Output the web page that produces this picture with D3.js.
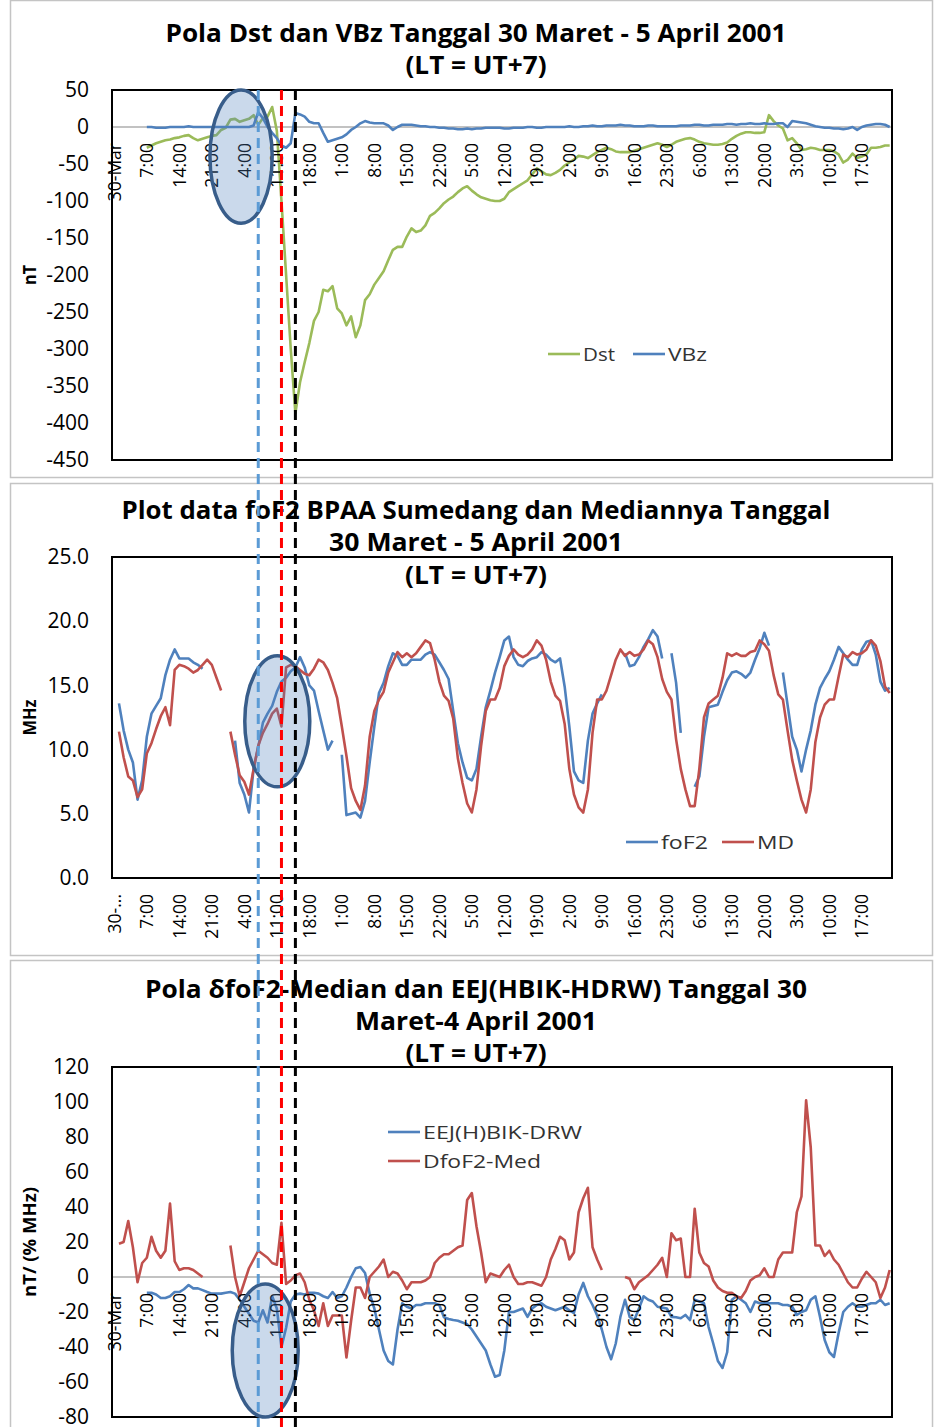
<!DOCTYPE html>
<html>
<head>
<meta charset="utf-8">
<script src="https://cdn.jsdelivr.net/npm/d3@7"></script>
<style>
body { margin: 0; background: #fff; }
text { font-family: "Open Sans", sans-serif; }
</style>
</head>
<body>
<svg id="chart" width="934" height="1427"></svg>
<script>
// hourly categories, 30 Mar 00:00 LT .. 5 Apr 23:00 LT
var N = 168;
var tickLabels = ["30-Mar", "7:00", "14:00", "21:00", "4:00", "11:00", "18:00", "1:00", "8:00", "15:00", "22:00", "5:00",
  "12:00", "19:00", "2:00", "9:00", "16:00", "23:00", "6:00", "13:00", "20:00", "3:00", "10:00", "17:00"];
var tickLabels2 = ["30-..."].concat(tickLabels.slice(1));

var dst = [
  null, null, null, null, null, null, null, -28, -25, -22, -20, -18, -17, -15, -14, -12, -11, -15, -18, -16, -14, -12, -11, -4,
  -1, 10, 11, 7, 9, 11, 16, 3, 12, 14, 27, -5, -100, -200, -300, -387, -345, -318, -292, -262, -250, -220, -222, -215,
  -245, -252, -268, -256, -284, -268, -234, -226, -213, -204, -195, -180, -166, -162, -162, -148, -137, -142, -140, -133, -120, -116, -110, -103,
  -98, -94, -88, -83, -80, -86, -91, -95, -97, -99, -100, -100, -97, -88, -84, -80, -76, -72, -64, -56, -60, -64, -65, -62,
  -58, -52, -48, -44, -39, -40, -42, -38, -34, -31, -28, -30, -33, -34, -34, -34, -32, -30, -28, -26, -24, -22, -24, -27,
  -24, -20, -18, -16, -15, -17, -20, -22, -23, -24, -24, -23, -21, -16, -12, -9, -7, -7, -8, -8, -7, 16, 8, 2,
  -2, -18, -15, -22, -31, -30, -28, -29, -31, -31, -31, -33, -37, -48, -44, -36, -42, -40, -37, -28, -28, -27, -25, -25
];
var vbz = [
  null, null, null, null, null, null, null, 0, 0, -1, -1, -1, 0, 0, 0, 0, 1, 0, 0, 0, 0, 0, 0, 0,
  0, 0, 0, 0, 0, 0, 2, 20, 12, 0, -8, -15, -25, -28, -22, 19, 17, 14, 7, 5, 5, -8, -20, -18,
  -16, -14, -10, -4, 0, 5, 8, 6, 5, 5, 5, 2, -4, 0, 3, 3, 3, 2, 1, 1, 0, 0, -1, -1,
  -2, -2, -3, -3, -2, -3, -2, -2, -1, -1, -1, -1, -2, -2, -1, -1, -1, 0, 0, -1, -1, 0, 0, 0,
  0, 0, 1, 0, 0, 1, 1, 2, 1, 1, 2, 2, 2, 3, 2, 2, 1, 1, 1, 2, 2, 1, 1, 1,
  1, 1, 2, 2, 2, 3, 3, 2, 2, 3, 3, 3, 4, 4, 3, 4, 4, 5, 4, 4, 5, 4, 4, 5,
  5, 0, 8, 7, 6, 5, 3, 1, 0, -1, -1, -2, -2, -3, -2, 0, -4, 0, 2, 3, 4, 4, 3, 0
];
var foF2 = [
  null, 13.6, 11.5, 10.0, 9.0, 6.1, 7.6, 11.0, 12.8, 13.4, 14.0, 15.8, 17.0, 17.8, 17.1, 17.1, 17.1, 16.8, 16.6, 16.3, null, null, null, null,
  null, null, 10.7, 7.4, 6.5, 5.1, 8.5, 10.2, 12.1, 12.8, 13.4, 14.5, 15.3, 15.6, 16.1, 16.4, 17.2, 16.4, 15.0, 14.6, 13.0, 11.5, 10.0, 10.7,
  null, 9.6, 4.9, 5.0, 5.1, 4.7, 6.0, 9.0, 11.8, 14.4, 15.2, 16.5, 17.5, 17.3, 16.6, 16.6, 17.0, 17.0, 17.0, 17.4, 17.6, 17.4, 16.8, 16.2,
  15.5, 13.0, 10.5, 9.0, 7.8, 7.6, 8.5, 11.0, 13.3, 14.6, 16.0, 17.2, 18.5, 18.8, 17.2, 16.6, 16.5, 16.9, 17.1, 17.2, 17.6, 17.4, 17.0, 16.8,
  17.1, 14.9, 11.8, 8.3, 7.6, 7.4, 10.7, 12.8, 13.6, 14.3, null, null, null, null, 17.5, 16.5, 16.6, 17.2, 18.0, 18.6, 19.3, 18.8, 17.1, null,
  17.5, 15.2, 11.3, null, null, 7.1, 7.9, 11.0, 13.3, 13.4, 13.5, 14.5, 15.4, 16.0, 16.1, 15.9, 15.6, 16.0, 17.0, 17.9, 19.1, 18.1, null, null,
  16.0, 13.5, 11.0, 10.0, 8.3, 10.0, 11.5, 13.5, 14.8, 15.5, 16.1, 17.0, 18.0, 17.5, 17.0, 16.6, 16.6, 17.8, 18.4, 18.5, 17.4, 15.3, 14.6, 14.8
];
var md = [
  null, 11.4, 9.4, 7.9, 7.6, 6.3, 6.9, 9.7, 10.5, 11.6, 12.6, 13.3, 11.9, 16.2, 16.6, 16.5, 16.3, 16.0, 16.2, 16.6, 17.0, 16.6, 15.6, 14.6,
  null, 11.4, 9.6, 8.0, 7.5, 6.5, 8.5, 10.3, 11.3, 12.0, 12.8, 13.2, 11.8, 16.4, 16.6, 16.5, 16.2, 15.9, 15.8, 16.3, 17.0, 16.8, 16.2, 15.2,
  14.0, 11.8, 9.5, 7.0, 6.0, 5.3, 7.2, 11.0, 13.0, 13.9, 14.5, 16.0, 16.8, 17.6, 17.2, 17.5, 17.2, 17.5, 18.0, 18.5, 18.3, 17.0, 15.3, 14.2,
  13.8, 12.4, 9.3, 7.4, 5.8, 5.1, 6.9, 10.3, 13.0, 13.9, 13.9, 14.8, 16.5, 17.3, 17.8, 17.4, 17.2, 17.4, 17.8, 18.5, 18.1, 17.0, 15.3, 14.2,
  13.8, 12.0, 8.5, 6.5, 5.5, 5.1, 6.9, 11.3, 13.9, 13.9, 14.6, 15.8, 17.0, 17.8, 17.3, 17.6, 17.3, 17.4, 17.8, 18.5, 18.2, 17.2, 15.5, 14.5,
  13.9, 10.8, 8.5, 6.9, 5.6, 5.6, 8.5, 12.5, 13.6, 13.9, 14.2, 15.6, 17.5, 17.3, 17.5, 17.3, 17.3, 17.6, 17.7, 18.5, 18.2, 17.7, 15.8, 14.3,
  13.9, 11.5, 9.2, 7.6, 6.1, 5.1, 6.9, 10.6, 12.5, 13.5, 13.9, 13.9, 15.7, 17.4, 17.2, 17.6, 17.4, 17.5, 17.8, 18.5, 18.1, 16.9, 14.9, 14.4
];
var eej = [
  null, null, null, null, null, null, null, -9, -9, -10, -12, -12, -11, -8.6, -8.6, -7, -4.6, -6.5, -6.5, -7.5, -8.6, -9.5, -9.5, -9.5,
  -9, -8.6, -9.5, -13, -17, -21, -25, -26, -19, -26, -11, -18, -40, -29, -14, -10, -9.5, -10, -9, -9, -9.5, -11, -12, -8.6,
  -12, -11, -6, 0, 5, 5.7, 2.3, -9.5, -18, -30, -42, -48, -50, -30, -15, -17, -18, -16, -16, -15, -15, -15, -16, -23,
  -24, -24.6, -25, -26, -27, -30, -34, -38, -42, -50, -57, -56, -42, -20, -20, -19, -18, -22.8, -18, -16, -15, -17, -18, -19,
  -18, -17, -19, -20.6, -10, -3.4, -11, -16, -22, -30, -40, -47, -38, -22.8, -13, -22.8, -24.6, -18, -11, -13, -14, -17, -17.5, -18,
  -22.8, -23, -23.6, -21.7, -24.6, -13, -14, -15, -28.6, -38, -48, -52, -43, -13, -11, -13, -15, -20, -14, -15, -15, -15, -15, -15,
  -16, -16, -17, -21.7, -20, -19, -13, -11, -22.8, -36, -43, -45.7, -32, -20, -17, -15, -17, -17, -16, -15, -15, -13, -16, -15
];
var dfoF2 = [
  null, 19, 20, 32, 17, -3, 8, 11, 23, 15, 11, 15, 42, 9, 4, 5, 5, 4, 2, 0, null, null, null, null,
  null, 18, 0, -11, -3, 5, 10, 15, 13, 11, 8, 7, 31, -4, -2, 1, 2, -3, -13, -19, -28, -15, -28, -22,
  -22, -22, -46, -25, -6, -6, -12, 0, 3, 6, 10, 0, 3, 2, -2, -7, -3, -3, -3, -2, 0, 8, 11, 13,
  13, 15, 17, 18, 44, 48, 29, 14, -3, 2, 1, 0, 4, 7, 0, -4, -4, -3, -3, -4, -5, 0, 10, 16,
  23, 21, 10, 14, 37, 45, 51, 17, 10, 4, null, null, null, null, 0, -1, -7, -3, -1, 1, 4, 7, 11, 0,
  25, 21, 22, 0, 0, 39, 14, 8, 6, -2, -6, -8, -9, -9, -11, -12, -8, -2, 0, 1, 5, 0, 0, 10,
  14, 14, 14, 37, 46, 101, 74, 18, 18, 12, 15, 10, 7, 2, -3, -6, -6, -1, 3, 0, -3, -12, -6, 4
];

// marker hours (index into the categories) for the dashed vertical lines
var eventHours = [31, 36, 39];
var eventColors = ["#5B9BD5", "#FF0000", "#000000"];

var GREEN = "#9BBB59", BLUE = "#4F81BD", RED = "#C0504D";

var svg = d3.select("#chart");
var x = d3.scaleBand().domain(d3.range(N)).range([112, 892]);
var xc = function (i) { return x(i) + x.bandwidth() / 2; };
var tickIdx = d3.range(0, N, 7);

function fit(sel, w) {
  sel.attr("textLength", w).attr("lengthAdjust", "spacingAndGlyphs");
}
// plain hyphen minus like the spreadsheet, not the unicode one d3 uses
function intFmt(d) { return String(d); }
function oneDec(d) { return d.toFixed(1); }

var panels = [
  {
    frame: [0, 477], top: 90, bottom: 460, domain: [-450, 50], ticks: d3.range(-450, 51, 50), fmt: intFmt,
    titles: [["Pola Dst dan VBz Tanggal 30 Maret - 5 April 2001", 42, 621], ["(LT = UT+7)", 74, 141]],
    yTitle: ["nT", 20], labels: tickLabels, zeroLine: true,
    series: [{ name: "Dst", values: dst, color: GREEN }, { name: "VBz", values: vbz, color: BLUE }],
    legend: [{ i: 0, lx: 548, ly: 354, tw: 32 }, { i: 1, lx: 633, ly: 354, tw: 39 }],
    ellipse: { c: 27.3, v: -40, rh: 6.7, rv: 90 }
  },
  {
    frame: [483, 955], top: 557, bottom: 878, domain: [0, 25], ticks: d3.range(0, 25.1, 5), fmt: oneDec,
    titles: [["Plot data foF2 BPAA Sumedang dan Mediannya Tanggal", 519, 709], ["30 Maret - 5 April 2001", 551, 294], ["(LT = UT+7)", 584, 142]],
    yTitle: ["MHz", 36], labels: tickLabels2, zeroLine: false,
    series: [{ name: "foF2", values: foF2, color: BLUE }, { name: "MD", values: md, color: RED }],
    legend: [{ i: 0, lx: 626, ly: 842, tw: 47 }, { i: 1, lx: 722, ly: 842, tw: 37 }],
    ellipse: { c: 35.1, v: 12.2, rh: 7, rv: 5.1 }
  },
  {
    frame: [960, 1440], top: 1067, bottom: 1417, domain: [-80, 120], ticks: d3.range(-80, 121, 20), fmt: intFmt,
    titles: [["Pola \u03b4foF2-Median dan EEJ(HBIK-HDRW) Tanggal 30", 998, 662], ["Maret-4 April 2001", 1030, 242], ["(LT = UT+7)", 1062, 141]],
    yTitle: ["nT/ (% MHz)", 110], labels: tickLabels, zeroLine: true,
    series: [{ name: "EEJ(H)BIK-DRW", values: eej, color: BLUE }, { name: "DfoF2-Med", values: dfoF2, color: RED }],
    legend: [{ i: 0, lx: 388, ly: 1132, tw: 159 }, { i: 1, lx: 388, ly: 1161, tw: 118 }],
    ellipse: { c: 32.5, v: -42, rh: 7.1, rv: 38 }
  }
];

panels.forEach(function (p) {
  var y = d3.scaleLinear().domain(p.domain).range([p.bottom, p.top]);
  var g = svg.append("g");

  g.append("rect")
    .attr("x", 10.5).attr("y", p.frame[0] + 0.5)
    .attr("width", 922).attr("height", p.frame[1] - p.frame[0])
    .attr("fill", "#fff").attr("stroke", "#c4c4c4").attr("stroke-width", 1.5);

  p.titles.forEach(function (t) {
    g.append("text")
      .attr("x", 476).attr("y", t[1])
      .attr("text-anchor", "middle")
      .attr("font-size", 25).attr("font-weight", "bold")
      .text(t[0])
      .call(fit, t[2]);
  });

  // y axis
  var ya = g.append("g")
    .attr("transform", "translate(112,0)")
    .call(d3.axisLeft(y).tickValues(p.ticks).tickSize(0).tickPadding(23).tickFormat(p.fmt));
  ya.select(".domain").remove();
  ya.selectAll("text").attr("font-size", 21).attr("font-family", "Open Sans").attr("fill", "#000");

  g.append("text")
    .attr("transform", "translate(30," + (p.top + p.bottom) / 2 + ") rotate(-90)")
    .attr("text-anchor", "middle").attr("dy", "0.35em")
    .attr("font-size", 18).attr("font-weight", "bold")
    .text(p.yTitle[0])
    .call(fit, p.yTitle[1]);

  if (p.zeroLine) {
    g.append("line")
      .attr("x1", 112).attr("x2", 892)
      .attr("y1", y(0)).attr("y2", y(0))
      .attr("stroke", "#868686").attr("stroke-width", 1.2);
  }

  var line = d3.line()
    .defined(function (d) { return d != null; })
    .x(function (d, i) { return xc(i); })
    .y(function (d) { return y(d); });

  p.series.forEach(function (s) {
    g.append("path")
      .datum(s.values)
      .attr("d", line)
      .attr("fill", "none")
      .attr("stroke", s.color)
      .attr("stroke-width", 2.6)
      .attr("stroke-linejoin", "round");
  });

  // category axis, labels hang under the zero line
  var xa = g.append("g")
    .attr("transform", "translate(0," + y(0) + ")")
    .call(d3.axisBottom(x).tickValues(tickIdx).tickSize(0)
      .tickFormat(function (d) { return p.labels[d / 7]; }));
  xa.select(".domain").remove();
  xa.selectAll("text")
    .attr("transform", "rotate(-90)")
    .attr("x", -16).attr("y", 0).attr("dy", "0.36em")
    .attr("text-anchor", "end")
    .attr("font-size", 17.5).attr("font-family", "Open Sans").attr("fill", "#000");

  g.append("rect")
    .attr("x", 112).attr("y", p.top)
    .attr("width", 780).attr("height", p.bottom - p.top)
    .attr("fill", "none").attr("stroke", "#000").attr("stroke-width", 2);

  p.legend.forEach(function (l) {
    var s = p.series[l.i];
    g.append("line")
      .attr("x1", l.lx).attr("x2", l.lx + 32)
      .attr("y1", l.ly).attr("y2", l.ly)
      .attr("stroke", s.color).attr("stroke-width", 2.6);
    g.append("text")
      .attr("x", l.lx + 35).attr("y", l.ly).attr("dy", "0.35em")
      .attr("font-size", 19).attr("fill", "#333")
      .text(s.name)
      .call(fit, l.tw);
  });

  var e = p.ellipse;
  g.append("ellipse")
    .attr("cx", xc(0) + e.c * x.step())
    .attr("cy", y(e.v))
    .attr("rx", e.rh * x.step())
    .attr("ry", Math.abs(y(0) - y(e.rv)))
    .attr("fill", "rgba(79,129,189,0.3)")
    .attr("stroke", "#385D8A").attr("stroke-width", 3.5);
});

// dashed event lines across all three panels
svg.selectAll(".event")
  .data(eventHours)
  .enter().append("line")
  .attr("class", "event")
  .attr("x1", function (d) { return xc(d); })
  .attr("x2", function (d) { return xc(d); })
  .attr("y1", 90).attr("y2", 1427)
  .attr("stroke", function (d, i) { return eventColors[i]; })
  .attr("stroke-width", 3)
  .attr("stroke-dasharray", "10,6");
</script>
</body>
</html>
